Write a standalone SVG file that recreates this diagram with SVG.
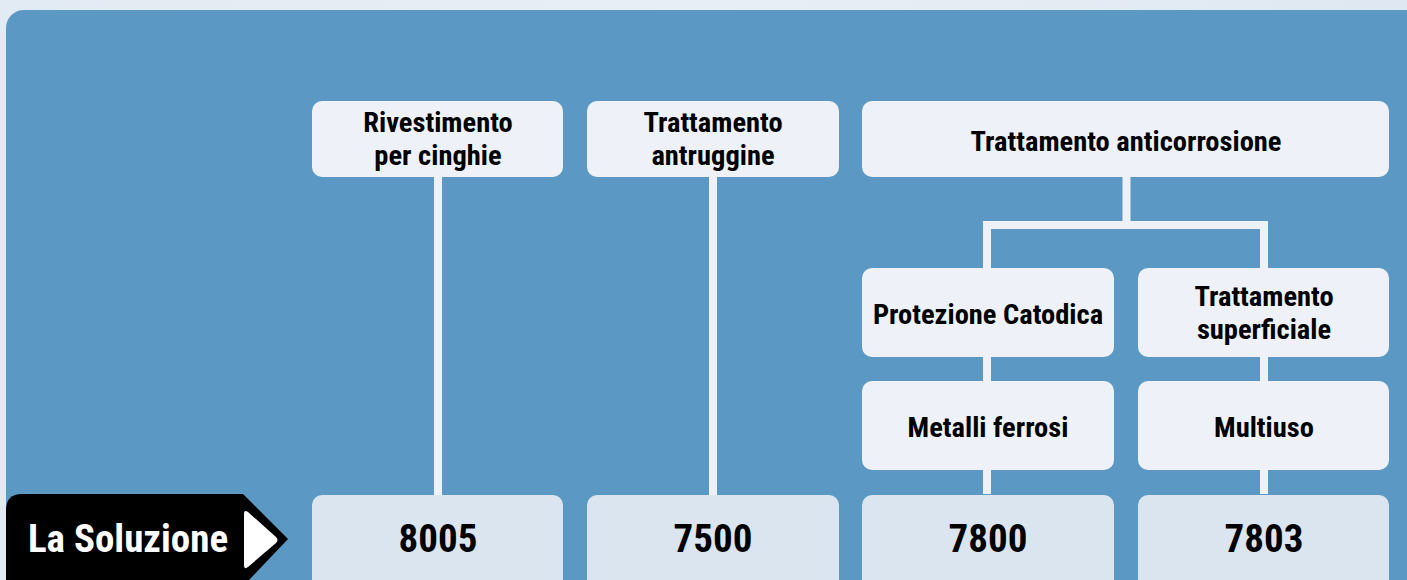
<svg xmlns="http://www.w3.org/2000/svg" width="1407" height="580" viewBox="0 0 1407 580">
<defs>
<linearGradient id="pg" x1="0" y1="0" x2="1" y2="0">
<stop offset="0" stop-color="#e2eaf3"/>
<stop offset="0.5" stop-color="#e8eef5"/>
<stop offset="1" stop-color="#dfe8f2"/>
</linearGradient>
<style>
.box{fill:#eef2f8}
.sol{fill:#dbe5f0}
.t{font-family:"Liberation Sans Narrow","Roboto Condensed","Liberation Sans",sans-serif;font-weight:bold;font-size:28.5px;fill:#000;text-anchor:middle}
.n{font-size:39px}
.w{fill:#fff;font-size:39px}
.c{stroke:#eef2f8;stroke-width:8;fill:none}
</style>
</defs>
<rect x="0" y="0" width="1407" height="580" fill="url(#pg)"/>
<rect x="6" y="10" width="1420" height="600" rx="18" fill="#5b98c3"/>
<g id="connectors">
<path class="c" d="M438 176V495M713 176V495M1126.5 176V225M987 225H1264M987 221V268M1264 221V268M987 357V381M1264 357V381M987 470V494M1264 470V494"/>
</g>
<g id="n-rivestimento">
<rect class="box" x="312" y="101" width="251" height="76" rx="10"/>
<text class="t" x="438" y="132">Rivestimento</text>
<text class="t" x="438" y="165">per cinghie</text>
</g>
<g id="n-antruggine">
<rect class="box" x="587" y="101" width="252" height="76" rx="10"/>
<text class="t" x="713" y="132">Trattamento</text>
<text class="t" x="713" y="165">antruggine</text>
</g>
<g id="n-anticorrosione">
<rect class="box" x="862" y="101" width="527" height="76" rx="10"/>
<text class="t" x="1126" y="151">Trattamento anticorrosione</text>
</g>
<g id="n-protezione">
<rect class="box" x="862" y="268" width="252" height="89" rx="10"/>
<text class="t" x="988" y="324">Protezione Catodica</text>
</g>
<g id="n-superficiale">
<rect class="box" x="1138" y="268" width="251" height="89" rx="10"/>
<text class="t" x="1264" y="306">Trattamento</text>
<text class="t" x="1264" y="339">superficiale</text>
</g>
<g id="n-metalli">
<rect class="box" x="862" y="381" width="252" height="89" rx="10"/>
<text class="t" x="988" y="437">Metalli ferrosi</text>
</g>
<g id="n-multiuso">
<rect class="box" x="1138" y="381" width="251" height="89" rx="10"/>
<text class="t" x="1264" y="437">Multiuso</text>
</g>
<g id="n-8005">
<rect class="sol" x="312" y="495" width="251" height="100" rx="10"/>
<text class="t n" x="438" y="552">8005</text>
</g>
<g id="n-7500">
<rect class="sol" x="587" y="495" width="252" height="100" rx="10"/>
<text class="t n" x="713" y="552">7500</text>
</g>
<g id="n-7800">
<rect class="sol" x="862" y="495" width="252" height="100" rx="10"/>
<text class="t n" x="988" y="552">7800</text>
</g>
<g id="n-7803">
<rect class="sol" x="1138" y="495" width="251" height="100" rx="10"/>
<text class="t n" x="1264" y="552">7803</text>
</g>
<g id="n-soluzione">
<path d="M22 494H243L288 539L249 580H6V510Q6 494 22 494Z" fill="#000"/>
<path d="M244 514Q244 509 248 512L276 537Q279 540 276 543L248 567Q244 570 244 565Z" fill="#fff"/>
<text class="t w" x="128" y="552">La Soluzione</text>
</g>
</svg>
